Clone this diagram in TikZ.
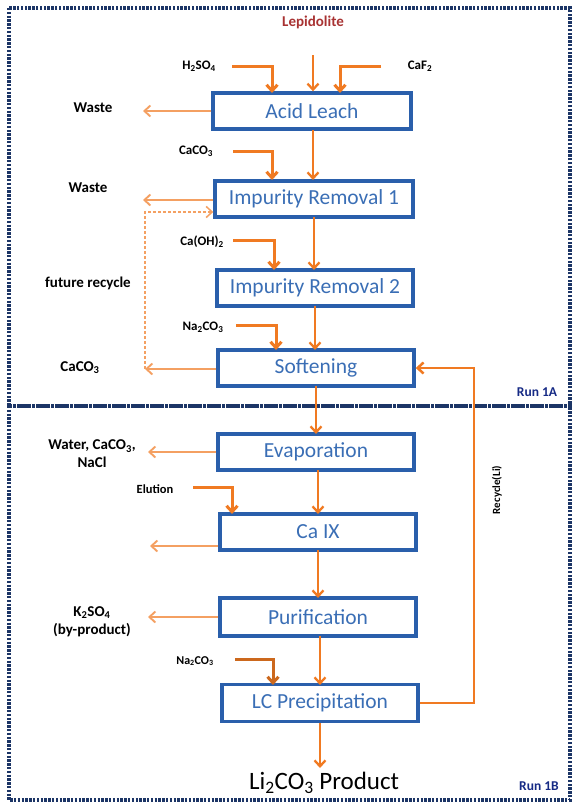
\documentclass[tikz,border=0pt]{standalone}
\usepackage{fontspec}
\setmainfont{Carlito}
\usetikzlibrary{arrows.meta}
\definecolor{arr}{HTML}{F07A22}
\definecolor{arrlight}{HTML}{F4A062}
\definecolor{boxblue}{HTML}{2A5FAB}
\definecolor{txtblue}{HTML}{3A6EB5}
\definecolor{navy}{HTML}{1C3566}
\definecolor{lepi}{HTML}{A83232}
\tikzset{
  proc/.style={draw=boxblue, line width=3.4pt, minimum width=196pt, minimum height=36pt,
    text=txtblue, font=\fontsize{21.5}{24}\selectfont, inner sep=0pt},
  feed/.style={draw=arr, line width=3pt, -{Straight Barb[length=6pt,width=11pt]}},
  outp/.style={draw=arrlight, line width=1.9pt, -{Straight Barb[length=6pt,width=11pt]}},
  recyc/.style={draw=arrlight, line width=1.5pt, dash pattern=on 3pt off 2pt},
  slab/.style={font=\bfseries\fontsize{13}{15}\selectfont},
  blab/.style={font=\bfseries\fontsize{15}{18}\selectfont, align=center},
  frame/.style={draw=navy, line width=3.6pt, dash pattern=on 2.4pt off 1.4pt},
  runlab/.style={font=\bfseries\fontsize{13.5}{15}\selectfont, text=navy!80!blue}
}
\begin{document}
\begin{tikzpicture}[x=1pt,y=-1pt]
\useasboundingbox (0,0) rectangle (573,803);
% frames
\draw[frame] (9,8) rectangle (570,406);
\draw[frame] (9,406) rectangle (570,800);
\node[runlab] (r1a) at (537,392) {Run 1A};
\node[runlab] (r1b) at (539,786) {Run 1B};

% process boxes
\node[proc, minimum width=198pt] (al) at (312,111) {Acid Leach};
\node[proc, minimum width=198pt] (ir1) at (314,199) {Impurity Removal 1};
\node[proc] (ir2) at (315,288) {Impurity Removal 2};
\node[proc] (soft) at (316,368) {Softening};
\node[proc] (evap) at (316,452) {Evaporation};
\node[proc] (caix) at (318,532) {Ca IX};
\node[proc, minimum height=38pt] (pur) at (318,617) {Purification};
\node[proc, minimum height=37pt] (lcp) at (320,703) {LC Precipitation};
\node[font=\fontsize{25}{28}\selectfont] (prod) at (324,783) {Li\textsubscript{2}CO\textsubscript{3} Product};

% top input
\node[font=\bfseries\fontsize{15}{18}\selectfont, text=lepi] (lep) at (313,22) {Lepidolite};
\coordinate (lepst) at (313,55);
\draw[feed, line width=2.3pt] (lepst) -- (lepst |- al.north);

% H2SO4
\node[slab] (h2so4) at (199,66) {H\textsubscript{2}SO\textsubscript{4}};
\coordinate (h2st) at (232,66);
\draw[feed] (h2st) -- (272,66) -- (272,93);
% CaF2
\node[slab] (caf2) at (420,66) {CaF\textsubscript{2}};
\coordinate (cafst) at (381,66);
\draw[feed] (cafst) -- (340,66) -- (340,93);

% waste 1
\node[blab] (w1) at (93,108) {Waste};
\coordinate (w1e) at (143,111);
\draw[outp] (al.west) -- (w1e);

% AL -> IR1
\draw[feed, line width=2.3pt] (313,130) -- (313,180);
% CaCO3
\node[slab] (caco3a) at (196,151) {CaCO\textsubscript{3}};
\coordinate (caco3st) at (233,151);
\draw[feed] (caco3st) -- (272,151) -- (272,180);

% waste 2
\node[blab] (w2) at (88,188) {Waste};
\coordinate (w2e) at (143,200);
\draw[outp] (ir1.west |- w2e) -- (w2e);

% future recycle
\node[blab] (fr) at (88,283) {future recycle};
\coordinate (rc1) at (145,369);
\coordinate (rc2) at (145,212);
\draw[recyc, -{Straight Barb[length=6pt,width=11pt]}] (rc1) -- (rc2) -- (rc2 -| ir1.west);

% IR1 -> IR2
\draw[feed, line width=2.3pt] (314,217) -- (314,270);
\node[slab] (caoh) at (202,242) {Ca(OH)\textsubscript{2}};
\coordinate (caohst) at (233,240);
\draw[feed] (caohst) -- (274,240) -- (274,270);

% IR2 -> Soft
\draw[feed, line width=2.3pt] (315,306) -- (315,350);
\node[slab] (na1) at (203,327) {Na\textsubscript{2}CO\textsubscript{3}};
\coordinate (na1st) at (236,325);
\draw[feed] (na1st) -- (276,325) -- (276,350);

% CaCO3 out
\node[blab] (caco3b) at (80,368) {CaCO\textsubscript{3}};
\draw[outp] (soft.west |- rc1) -- (rc1);

% Soft -> Evap
\draw[feed, line width=2.3pt] (316,386) -- (316,434);

% recycle Li
\coordinate (rl1) at (474,703);
\coordinate (rl2) at (474,368);
\draw[feed, line width=2.5pt] (lcp.east) -- (rl1) -- (rl2) -- (soft.east);
\node[font=\bfseries\fontsize{11}{13}\selectfont, rotate=90] (rlab) at (497,490) {Recycle(Li)};

% evaporation out
\node[blab] (wcn) at (92,454) {Water, CaCO\textsubscript{3},\\NaCl};
\coordinate (evo) at (148,452);
\draw[outp] (evap.west) -- (evo);

% Elution
\node[font=\bfseries\fontsize{12.5}{14}\selectfont] (elu) at (155,489) {Elution};
\coordinate (elst) at (193,487);
\draw[feed] (elst) -- (232,487) -- (232,514);

% Evap -> CaIX
\draw[feed, line width=2.3pt] (318,470) -- (318,514);
% CaIX out
\coordinate (cxo) at (150,546);
\draw[outp] (caix.west |- cxo) -- (cxo);

% CaIX -> Pur
\draw[feed, line width=2.3pt] (318,550) -- (318,598);

% K2SO4
\node[blab] (k2so4) at (92,622) {K\textsubscript{2}SO\textsubscript{4}\\(by-product)};
\coordinate (puo) at (148,617);
\draw[outp] (pur.west) -- (puo);

% Pur -> LC
\draw[feed, line width=2.3pt] (320,636) -- (320,685);
\node[font=\bfseries\fontsize{12}{14}\selectfont] (na2) at (195,661) {Na\textsubscript{2}CO\textsubscript{3}};
\coordinate (na2st) at (235,659);
\draw[feed, draw=arr!85!black] (na2st) -- (273,659) -- (273,685);

% LC -> product
\draw[feed, line width=2.3pt] (lcp.south) -- (320,768);
\end{tikzpicture}
\end{document}
